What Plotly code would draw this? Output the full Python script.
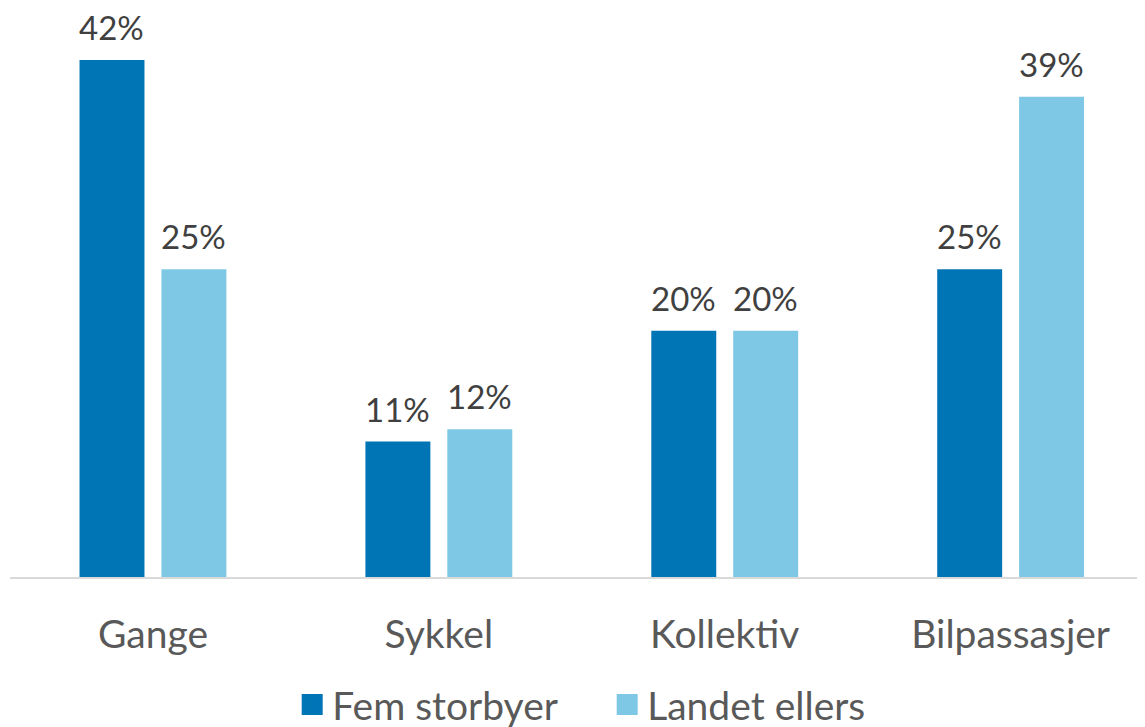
import plotly.graph_objects as go

categories = ["Gange", "Sykkel", "Kollektiv", "Bilpassasjer"]
fem_storbyer = [42, 11, 20, 25]
landet_ellers = [25, 12, 20, 39]
series_names = ["Fem storbyer", "Landet ellers"]

DARK = "#0075B6"
LIGHT = "#7EC8E5"
FONT = "Lato"

fig = go.Figure()
for name, vals, col in [(series_names[0], fem_storbyer, DARK), (series_names[1], landet_ellers, LIGHT)]:
    fig.add_trace(go.Bar(
        name=name, x=categories, y=vals, marker=dict(color=col, line=dict(width=0)),
        cliponaxis=False, showlegend=False,
    ))
# legend entries with larger square symbols
for name, col in [(series_names[0], DARK), (series_names[1], LIGHT)]:
    fig.add_trace(go.Scatter(
        name=name, x=[None], y=[None], mode="markers",
        marker=dict(symbol="square", size=16, color=col, line=dict(color=col, width=6)),
        showlegend=True,
    ))

# value labels above bars
for vals, shift in [(fem_storbyer, -41), (landet_ellers, 41)]:
    for cat, v in zip(categories, vals):
        fig.add_annotation(x=cat, y=v, xref="x", yref="y", text=f"{v}%", showarrow=False,
                           xshift=shift, yshift=33, yanchor="middle", xanchor="center",
                           font=dict(family=FONT, size=33, color="#404040"))

fig.update_layout(
    width=1137, height=719,
    margin=dict(l=2, r=0, t=15, b=150, autoexpand=False),
    paper_bgcolor="white", plot_bgcolor="white",
    barmode="group", bargap=0.427, bargroupgap=0.207,
    font=dict(family=FONT, color="#595959"),
    showlegend=True,
    legend=dict(orientation="h", x=0.527, xanchor="center", xref="container",
                y=0.031, yanchor="middle", yref="container",
                entrywidth=270, entrywidthmode="pixels",
                font=dict(family=FONT, size=39, color="#595959"), itemsizing="trace"),
    xaxis=dict(range=[-0.5, 3.47], showgrid=False, showline=True, linecolor="#D9D9D9", linewidth=2,
               ticks="", tickfont=dict(family=FONT, size=39, color="#595959"), ticklabelstandoff=22,
               automargin=False),
    yaxis=dict(range=[0, 45], visible=False, showgrid=False, zeroline=False, automargin=False),
)

fig.write_html("out.html")
